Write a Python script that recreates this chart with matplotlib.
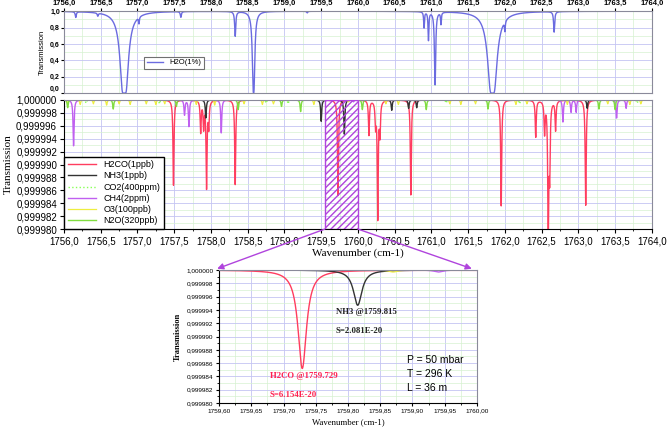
import numpy as np
import matplotlib
matplotlib.use("Agg")
import matplotlib.pyplot as plt
from matplotlib.ticker import FuncFormatter, MultipleLocator, FixedLocator
from matplotlib.patches import Rectangle, ConnectionPatch

SANS = "Liberation Sans"
SERIF = "Liberation Serif"

# ---- H2O (1%) lines for the top panel: centre (cm-1), peak optical depth, half width
h2o_center = [1756.16, 1756.46, 1756.82, 1757.02, 1757.59, 1758.33, 1758.58, 1759.31,
              1760.90, 1760.96, 1761.05, 1761.13, 1761.83, 1762.00, 1762.67]
h2o_tau = [0.073, 0.04, 32.0, 0.09, 0.073, 0.36, 6.0, 0.02,
           0.22, 0.43, 2.3, 0.16, 18.0, 0.15, 0.29]
h2o_hw = [0.008, 0.008, 0.010, 0.006, 0.008, 0.008, 0.007, 0.008,
          0.006, 0.006, 0.006, 0.006, 0.015, 0.006, 0.008]

# ---- trace gases for the middle panel: centre (cm-1) and peak absorption (1e-6)
h2co_center = [1757.49, 1757.86, 1757.90, 1757.94, 1757.97, 1758.33, 1759.729,
               1760.15, 1760.24, 1760.27, 1760.30, 1760.72, 1761.95, 1762.42,
               1762.54, 1762.59, 1762.61, 1762.69, 1763.10]
h2co_depth = [13.2, 4.9, 4.1, 13.4, 3.9, 13.1, 14.8,
              5.4, 3.6, 18.1, 4.9, 14.7, 16.4, 5.7,
              4.9, 21.0, 10.5, 4.6, 16.3]

nh3_center = [1757.93, 1759.50, 1759.815, 1760.46, 1760.69, 1760.80, 1763.12]
nh3_depth = [2.8, 3.3, 5.3, 1.6, 1.3, 1.2, 1.3]

co2_center = [1756.30, 1757.30, 1758.75, 1759.05, 1761.20, 1762.20, 1763.80]
co2_depth = [0.5, 0.6, 0.5, 0.6, 0.5, 0.6, 0.5]

ch4_center = [1756.13, 1757.64, 1757.70, 1758.14, 1759.94, 1762.79, 1762.90,
              1762.97, 1763.52, 1763.65]
ch4_depth = [7.1, 2.3, 4.1, 5.1, 0.3, 3.4, 1.9, 1.9, 2.8, 1.3]

o3_center = [1756.05, 1756.22, 1756.40, 1756.58, 1756.75, 1756.90, 1757.12,
             1757.25, 1757.37, 1757.80, 1758.05, 1758.45, 1758.70, 1758.85,
             1759.40, 1759.87, 1760.38, 1760.55, 1761.25, 1761.40, 1761.60,
             1762.15, 1762.30, 1762.85, 1763.40, 1763.70, 1763.85]
o3_depth = [0.6, 0.7, 0.6, 0.8, 0.6, 0.7, 0.6, 0.7, 0.6, 0.7, 0.8, 0.6, 0.7, 0.6,
            0.7, 0.3, 0.6, 0.7, 0.6, 0.7, 0.6, 0.7, 0.6, 0.7, 0.6, 0.7, 0.6]

n2o_center = [1756.05, 1756.67, 1757.53, 1758.37, 1758.96, 1759.22, 1760.06,
              1760.93, 1761.77, 1763.28, 1763.50]
n2o_depth = [1.2, 1.4, 1.0, 1.5, 1.0, 1.8, 1.5, 1.5, 1.4, 1.4, 1.5]

line_hw = 0.008

species = [
    ("H2CO(1ppb)", h2co_center, h2co_depth, "#ff3d5f", "-", 1.0),
    ("NH3(1ppb)", nh3_center, nh3_depth, "#333333", "-", 1.0),
    ("CO2(400ppm)", co2_center, co2_depth, "#88ff55", ":", 1.0),
    ("CH4(2ppm)", ch4_center, ch4_depth, "#c060f0", "-", 1.0),
    ("O3(100ppb)", o3_center, o3_depth, "#eeee40", "-", 0.9),
    ("N2O(320ppb)", n2o_center, n2o_depth, "#80dd40", "-", 1.0),
]


def lorentz_sum(nu, centers, peaks, hws):
    out = np.zeros_like(nu)
    for c, p, g in zip(centers, peaks, np.broadcast_to(hws, len(centers))):
        out += p * g ** 2 / ((nu - c) ** 2 + g ** 2)
    return out


def comma(fmt):
    return FuncFormatter(lambda v, p: format(v, fmt).replace(".", ","))


def style_grid(ax):
    ax.set_axisbelow(True)
    ax.grid(which="major", color="#c4c4f2", linewidth=0.6)
    ax.grid(which="minor", color="#d6f2d0", linewidth=0.5)
    for s in ax.spines.values():
        s.set_color("#8a8a9a")
        s.set_linewidth(0.8)


fig = plt.figure(figsize=(6.68, 4.29), dpi=100)

# ---------------- top panel: H2O
ax1 = fig.add_axes([0.0958, 0.783, 0.880, 0.191])
nu = np.linspace(1756.0, 1764.0, 24001)
trans_h2o = np.exp(-lorentz_sum(nu, h2o_center, h2o_tau, h2o_hw))
ax1.plot(nu, trans_h2o, color="#6b6be0", linewidth=1.0, label="H2O(1%)")
ax1.set_xlim(1756.0, 1764.0)
ax1.set_ylim(0.0, 1.0)
ax1.xaxis.set_major_locator(MultipleLocator(0.5))
ax1.xaxis.set_minor_locator(MultipleLocator(0.25))
ax1.yaxis.set_major_locator(FixedLocator([0.0, 0.2, 0.4, 0.6, 0.8, 1.0]))
ax1.yaxis.set_minor_locator(MultipleLocator(0.1))
ax1.xaxis.set_major_formatter(comma(".1f"))
ax1.yaxis.set_major_formatter(comma(".1f"))
ax1.xaxis.tick_top()
ax1.tick_params(axis="x", which="both", top=True, bottom=False, labelsize=5.5,
                length=2, pad=1)
ax1.tick_params(axis="y", labelsize=5, length=2, pad=1)
ax1.tick_params(axis="y", which="minor", length=0)
ax1.tick_params(axis="x", which="minor", length=0)
fig.canvas.draw()
for t in ax1.get_xticklabels() + ax1.get_yticklabels():
    t.set_fontfamily(SANS)
    t.set_fontweight("bold")
ax1.yaxis.get_major_ticks()[0].label1.set_va("bottom")
ax1.set_ylabel("Transmission", fontsize=5.5, family=SANS, labelpad=3)
style_grid(ax1)
leg1 = ax1.legend(loc="lower left", bbox_to_anchor=(0.13, 0.25), fancybox=False,
                  prop={"family": SANS, "size": 5.5}, handlelength=2.2,
                  borderpad=0.3, framealpha=1)
leg1.get_frame().set_edgecolor("#707070")
leg1.get_frame().set_linewidth(0.8)

# ---------------- middle panel: trace gases
ax2 = fig.add_axes([0.0958, 0.466, 0.880, 0.301])
for name, cen, dep, col, ls, lw in species:
    ax2.plot(nu, 1.0 - 1e-6 * lorentz_sum(nu, cen, dep, line_hw), color=col,
             linestyle=ls, linewidth=lw, label=name)
ax2.set_xlim(1756.0, 1764.0)
ax2.set_ylim(0.99998, 1.0)
ax2.xaxis.set_major_locator(MultipleLocator(0.5))
ax2.xaxis.set_minor_locator(MultipleLocator(0.25))
ax2.yaxis.set_major_locator(FixedLocator(1.0 - 1e-6 * np.arange(0, 21, 2)))
ax2.yaxis.set_minor_locator(FixedLocator(1.0 - 1e-6 * np.arange(1, 20, 2)))
ax2.xaxis.set_major_formatter(comma(".1f"))
ax2.yaxis.set_major_formatter(comma(".6f"))
ax2.tick_params(which="major", labelsize=7, length=3, pad=2)
ax2.tick_params(which="minor", length=1.5)
ax2.tick_params(axis="y", which="minor", length=0)
for t in ax2.get_xticklabels() + ax2.get_yticklabels():
    t.set_fontfamily(SANS)
ax2.set_xlabel("Wavenumber (cm-1)", fontsize=8, family=SERIF, labelpad=2)
ax2.set_ylabel("Transmission", fontsize=8, family=SERIF, labelpad=2)
style_grid(ax2)
ax2.spines["left"].set_color("black")
ax2.spines["bottom"].set_color("black")
ax2.add_patch(Rectangle((1759.55, 0.99998), 0.45, 2e-5, facecolor="none",
                        edgecolor="#b044dd", hatch="/////", linewidth=1.0, zorder=5))
leg2 = ax2.legend(loc="lower left", borderaxespad=0, fancybox=False,
                  prop={"family": SANS, "size": 6.5}, handlelength=3.2,
                  labelspacing=0.25, borderpad=0.4, framealpha=1)
leg2.get_frame().set_edgecolor("black")
leg2.get_frame().set_linewidth(1.0)

# ---------------- bottom panel: zoom on 1759.6 - 1760.0
ax3 = fig.add_axes([0.328, 0.0606, 0.386, 0.310])
nu_z = np.linspace(1759.6, 1760.0, 4001)
for name, cen, dep, col, ls, lw in species:
    ax3.plot(nu_z, 1.0 - 1e-6 * lorentz_sum(nu_z, cen, dep, line_hw), color=col,
             linestyle=ls, linewidth=lw)
ax3.set_xlim(1759.6, 1760.0)
ax3.set_ylim(0.99998, 1.0)
ax3.xaxis.set_major_locator(MultipleLocator(0.05))
ax3.xaxis.set_minor_locator(MultipleLocator(0.025))
ax3.yaxis.set_major_locator(FixedLocator(1.0 - 1e-6 * np.arange(0, 21, 2)))
ax3.yaxis.set_minor_locator(FixedLocator(1.0 - 1e-6 * np.arange(1, 20, 2)))
ax3.xaxis.set_major_formatter(comma(".2f"))
ax3.yaxis.set_major_formatter(comma(".6f"))
ax3.tick_params(which="major", labelsize=4.6, length=2.5, pad=1.5)
ax3.tick_params(which="minor", length=1.2)
for t in ax3.get_xticklabels() + ax3.get_yticklabels():
    t.set_fontfamily(SANS)
ax3.set_xlabel("Wavenumber (cm-1)", fontsize=6.3, family=SERIF, labelpad=3)
ax3.set_ylabel("Transmission", fontsize=6, family=SERIF, fontweight="bold", labelpad=3)
style_grid(ax3)
ax3.spines["left"].set_color("black")
ax3.spines["bottom"].set_color("black")

ax3.text(1759.781, 1.0 - 6.3e-6, "NH3 @1759.815", fontsize=6.3, family=SERIF,
         fontweight="bold", color="#222222", va="center")
ax3.text(1759.781, 1.0 - 9.1e-6, "S=2.081E-20", fontsize=6.3, family=SERIF,
         fontweight="bold", color="#222222", va="center")
ax3.text(1759.679, 1.0 - 15.9e-6, "H2CO @1759.729", fontsize=6.3, family=SERIF,
         fontweight="bold", color="#ff2050", va="center")
ax3.text(1759.679, 1.0 - 18.8e-6, "S=6.154E-20", fontsize=6.3, family=SERIF,
         fontweight="bold", color="#ff2050", va="center")
for i, s in enumerate(["P = 50 mbar", "T = 296 K", "L = 36 m"]):
    ax3.text(1759.892, 1.0 - (13.6 + 2.1 * i) * 1e-6, s, fontsize=7.5,
             family=SANS, va="center")

# arrows from the hatched region to the zoom panel
for x0, x1 in [(1759.55, 1759.597), (1760.0, 1759.992)]:
    con = ConnectionPatch(xyA=(x0, 0.99998), coordsA=ax2.transData,
                          xyB=(x1, 1.0000002), coordsB=ax3.transData,
                          arrowstyle="-|>", color="#b044dd", linewidth=1.0,
                          mutation_scale=9)
    fig.add_artist(con)

fig.savefig("out.png", dpi=100)
